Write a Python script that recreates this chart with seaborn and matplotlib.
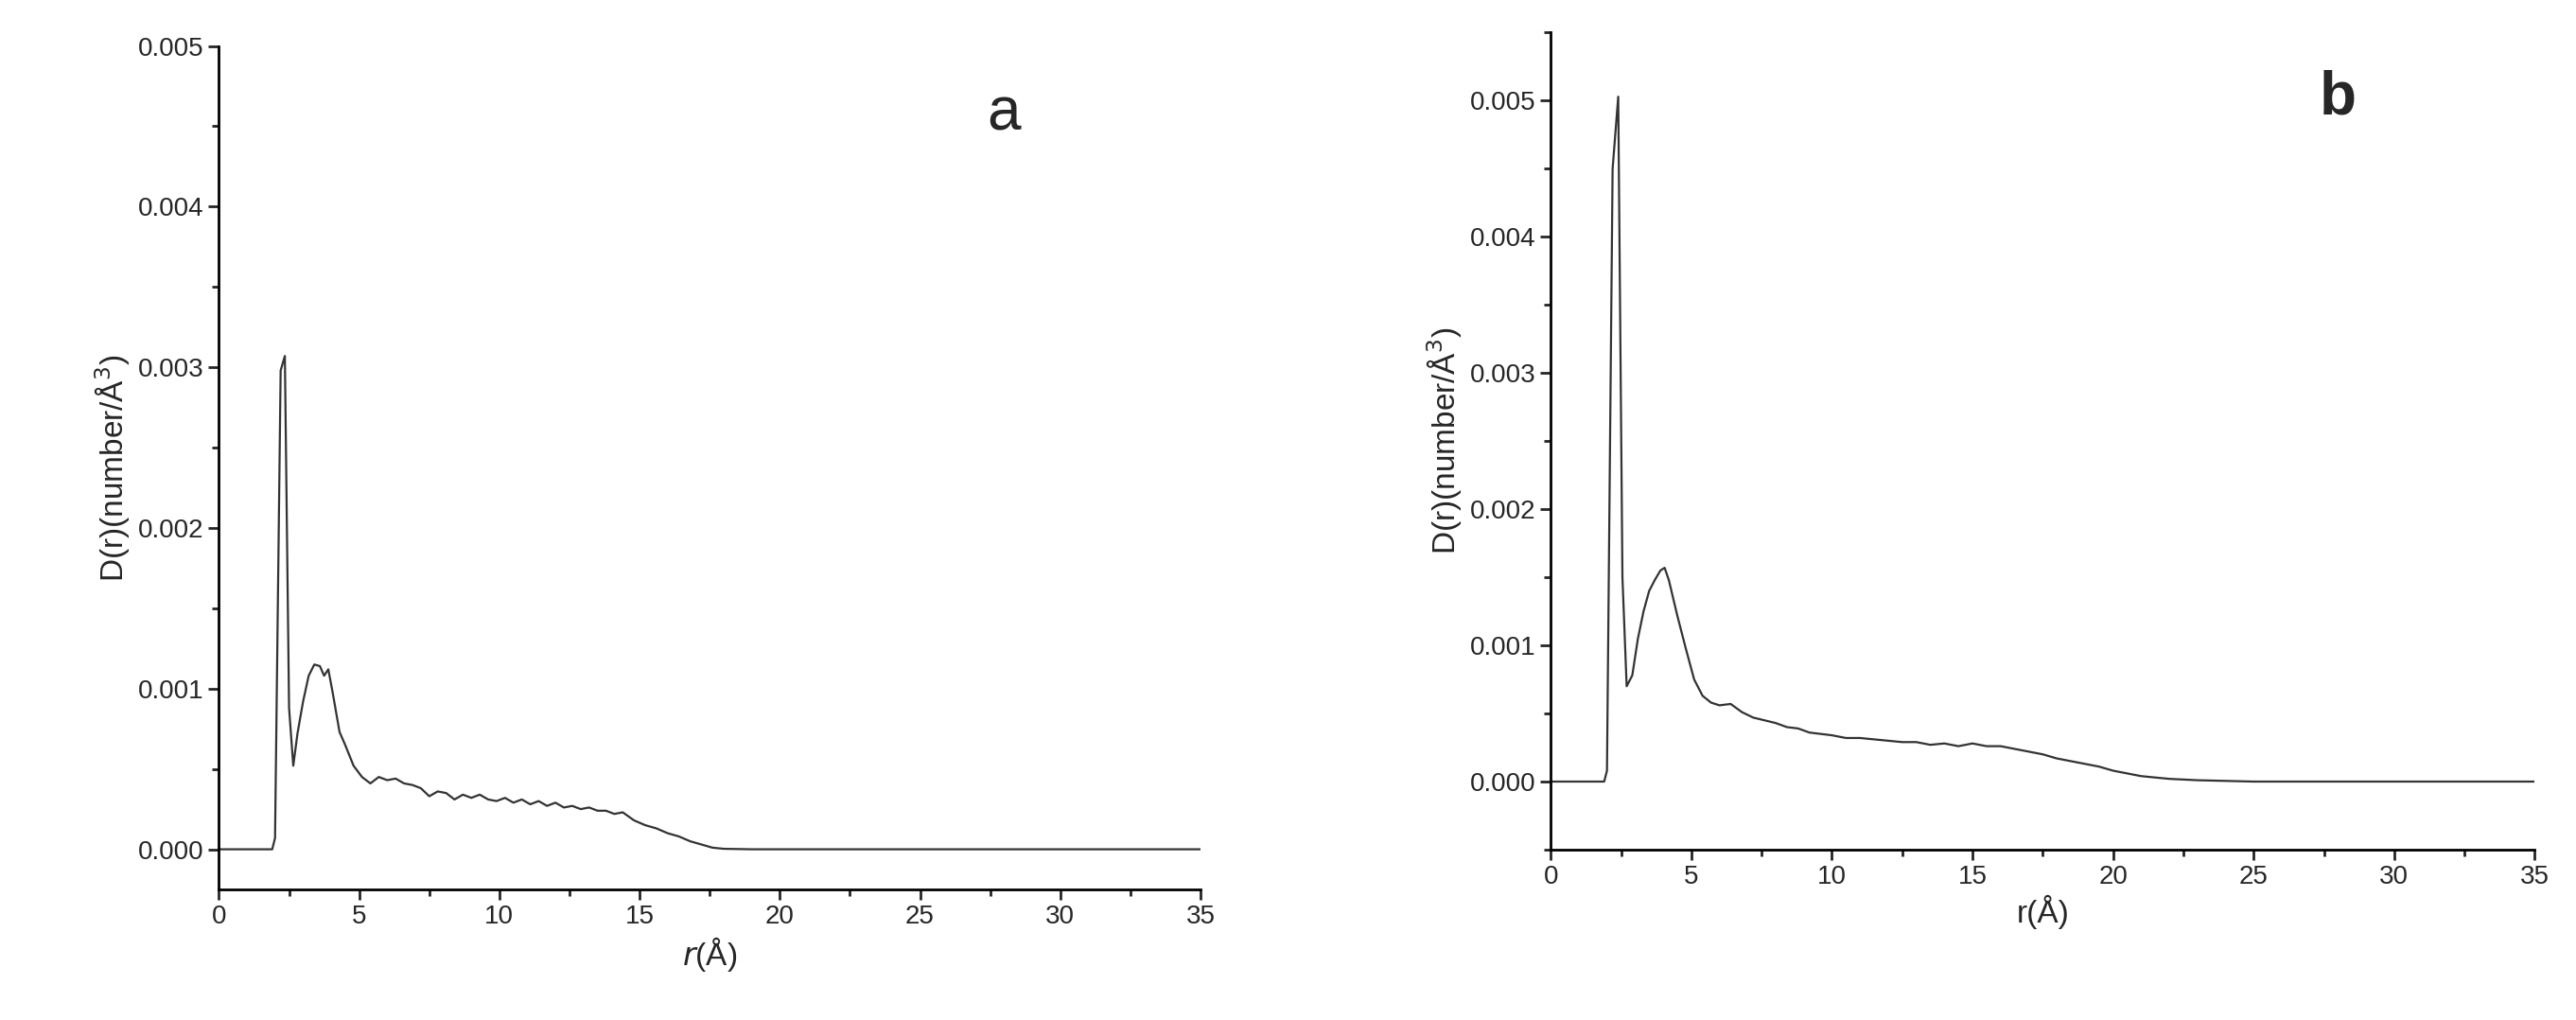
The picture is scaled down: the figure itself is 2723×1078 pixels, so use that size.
import matplotlib
matplotlib.use("Agg")
import matplotlib.pyplot as plt
import pandas as pd
import seaborn as sns
from matplotlib.ticker import MultipleLocator

# Panel a: D(r) values
r_a = [0, 1.0, 1.9, 2.0, 2.2, 2.35, 2.5, 2.65, 2.8, 3.0, 3.2, 3.4, 3.6, 3.75, 3.9, 4.05,
       4.3, 4.5, 4.8, 5.1, 5.4, 5.7, 6.0, 6.3, 6.6, 6.9, 7.2, 7.5, 7.8, 8.1, 8.4, 8.7,
       9.0, 9.3, 9.6, 9.9, 10.2, 10.5, 10.8, 11.1, 11.4, 11.7, 12.0, 12.3, 12.6, 12.9,
       13.2, 13.5, 13.8, 14.1, 14.4, 14.8, 15.2, 15.6, 16.0, 16.4, 16.8, 17.2, 17.6,
       18.0, 19.0, 20.0, 25.0, 30.0, 35.0]
d_a = [0, 0, 0, 0.00007, 0.00298, 0.00307, 0.00088, 0.00052, 0.00072, 0.00092, 0.00108,
       0.00115, 0.00114, 0.00108, 0.00112, 0.00098, 0.00073, 0.00065, 0.00052, 0.00045,
       0.00041, 0.00045, 0.00043, 0.00044, 0.00041, 0.00040, 0.00038, 0.00033, 0.00036,
       0.00035, 0.00031, 0.00034, 0.00032, 0.00034, 0.00031, 0.00030, 0.00032, 0.00029,
       0.00031, 0.00028, 0.00030, 0.00027, 0.00029, 0.00026, 0.00027, 0.00025, 0.00026,
       0.00024, 0.00024, 0.00022, 0.00023, 0.00018, 0.00015, 0.00013, 0.00010, 0.00008,
       0.00005, 0.00003, 0.00001, 0.000003, 0, 0, 0, 0, 0]

# Panel b
r_b = [0, 1.0, 1.9, 2.0, 2.2, 2.4, 2.55, 2.7, 2.9, 3.1, 3.3, 3.5, 3.7, 3.9, 4.05, 4.2,
       4.5, 4.8, 5.1, 5.4, 5.7, 6.0, 6.4, 6.8, 7.2, 7.6, 8.0, 8.4, 8.8, 9.2, 9.6, 10.0,
       10.5, 11.0, 11.5, 12.0, 12.5, 13.0, 13.5, 14.0, 14.5, 15.0, 15.5, 16.0, 16.5,
       17.0, 17.5, 18.0, 18.5, 19.0, 19.5, 20.0, 20.5, 21.0, 22.0, 23.0, 24.0, 25.0,
       27.0, 30.0, 35.0]
d_b = [0, 0, 0, 0.00008, 0.0045, 0.00503, 0.0015, 0.00070, 0.00078, 0.00105, 0.00125,
       0.0014, 0.00148, 0.00155, 0.00157, 0.00148, 0.00122, 0.00098, 0.00075, 0.00063,
       0.00058, 0.00056, 0.00057, 0.00051, 0.00047, 0.00045, 0.00043, 0.00040, 0.00039,
       0.00036, 0.00035, 0.00034, 0.00032, 0.00032, 0.00031, 0.00030, 0.00029, 0.00029,
       0.00027, 0.00028, 0.00026, 0.00028, 0.00026, 0.00026, 0.00024, 0.00022, 0.00020,
       0.00017, 0.00015, 0.00013, 0.00011, 0.00008, 0.00006, 0.00004, 0.00002, 0.00001,
       0.000005, 0, 0, 0, 0]

sns.set_theme(style="ticks")
plt.rcParams["font.family"] = ["Liberation Sans", "DejaVu Sans"]

fig = plt.figure(figsize=(27.23, 10.78), dpi=100)
ax_a = fig.add_axes([0.085, 0.128, 0.381, 0.827])
ax_b = fig.add_axes([0.602, 0.167, 0.382, 0.801])

panels = [
    (ax_a, r_a, d_a, (-0.00025, 0.005), "a", "$r$(Å)"),
    (ax_b, r_b, d_b, (-0.0005, 0.0055), "b", "r(Å)"),
]
for ax, r, d, ylim, letter, xlabel in panels:
    df = pd.DataFrame({"r": r, "D": d})
    sns.lineplot(data=df, x="r", y="D", ax=ax, color="#333333", linewidth=1.6)
    ax.set_xlim(0, 35)
    ax.set_ylim(*ylim)
    ax.xaxis.set_major_locator(MultipleLocator(5))
    ax.xaxis.set_minor_locator(MultipleLocator(2.5))
    ax.yaxis.set_major_locator(MultipleLocator(0.001))
    ax.yaxis.set_minor_locator(MultipleLocator(0.0005))
    ax.yaxis.set_major_formatter(matplotlib.ticker.FormatStrFormatter("%.3f"))
    ax.tick_params(which="major", length=8, width=2, labelsize=20, direction="out")
    ax.tick_params(which="minor", length=5, width=2, direction="out")
    for s in ["top", "right"]:
        ax.spines[s].set_visible(False)
    for s in ["left", "bottom"]:
        ax.spines[s].set_linewidth(2)
        ax.spines[s].set_color("black")
    ax.set_xlabel(xlabel, fontsize=24)
    ax.set_ylabel("D(r)(number/Å$^3$)", fontsize=24)
    ax.text(0.8, 0.9, letter, transform=ax.transAxes, fontsize=46,
            fontweight="bold" if letter == "b" else "normal", ha="center")

fig.savefig("out.png", dpi=100)
